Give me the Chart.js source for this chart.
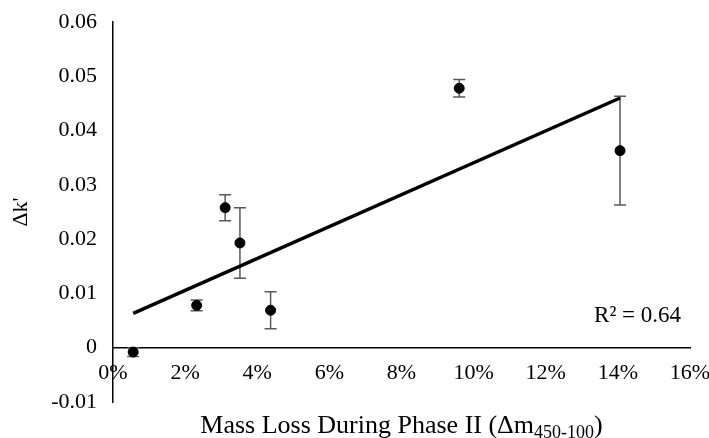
<!DOCTYPE html>
<html>
<head>
<meta charset="utf-8">
<script src="https://cdn.jsdelivr.net/npm/chart.js@4"></script>
<style>
  html, body { margin: 0; padding: 0; background: #fff; }
  canvas { display: block; }
</style>
</head>
<body>
<canvas id="grafica" width="709" height="438"></canvas>
<script>
// valores
const massLoss = [0.0056, 0.0232, 0.0311, 0.0352, 0.0437, 0.0960, 0.1406];
const deltaK = [-0.0008, 0.0078, 0.0258, 0.0193, 0.0069, 0.0478, 0.0363];
const deltaKErr = [0.0008, 0.0010, 0.0024, 0.0065, 0.0034, 0.0016, 0.0100];
const xTicks = [0, 0.02, 0.04, 0.06, 0.08, 0.10, 0.12, 0.14, 0.16];
const yTicks = [-0.01, 0, 0.01, 0.02, 0.03, 0.04, 0.05, 0.06];

const fuente = "'Liberation Serif', 'Times New Roman', serif";

// regresion lineal (linea de tendencia)
function regresion(xs, ys) {
    const n = xs.length;
    const mx = xs.reduce((a, b) => a + b, 0) / n;
    const my = ys.reduce((a, b) => a + b, 0) / n;
    let sxy = 0, sxx = 0, syy = 0;
    for (let i = 0; i < n; i++) {
        sxy += (xs[i] - mx) * (ys[i] - my);
        sxx += (xs[i] - mx) * (xs[i] - mx);
        syy += (ys[i] - my) * (ys[i] - my);
    }
    const m = sxy / sxx;
    return { m: m, b: my - m * mx, r2: (sxy * sxy) / (sxx * syy) };
}
const ajuste = regresion(massLoss, deltaK);
const xMin = Math.min(...massLoss);
const xMax = Math.max(...massLoss);
const tendencia = [
    { x: xMin, y: ajuste.m * xMin + ajuste.b },
    { x: xMax, y: ajuste.m * xMax + ajuste.b }
];

// barras de error
const errorBars = {
    id: 'errorBars',
    beforeDatasetsDraw(chart) {
        const ctx = chart.ctx;
        const xs = chart.scales.x, ys = chart.scales.y;
        ctx.save();
        ctx.strokeStyle = '#595959';
        ctx.lineWidth = 1.5;
        massLoss.forEach((xv, i) => {
            const px = xs.getPixelForValue(xv);
            const top = ys.getPixelForValue(deltaK[i] + deltaKErr[i]);
            const bot = ys.getPixelForValue(deltaK[i] - deltaKErr[i]);
            ctx.beginPath();
            ctx.moveTo(px, top); ctx.lineTo(px, bot);
            ctx.moveTo(px - 6, top); ctx.lineTo(px + 6, top);
            ctx.moveTo(px - 6, bot); ctx.lineTo(px + 6, bot);
            ctx.stroke();
        });
        ctx.restore();
    }
};

// titulo del eje x con subindice y texto R²
const textos = {
    id: 'textos',
    afterDraw(chart) {
        const ctx = chart.ctx;
        const area = chart.chartArea;
        ctx.save();
        ctx.fillStyle = '#000';
        ctx.textBaseline = 'alphabetic';

        const principal = 'Mass Loss During Phase II (\u0394m';
        const sub = '450-100';
        const cierre = ')';
        ctx.font = '26px ' + fuente;
        const w1 = ctx.measureText(principal).width;
        const w3 = ctx.measureText(cierre).width;
        ctx.font = '18px ' + fuente;
        const w2 = ctx.measureText(sub).width;
        let x = (area.left + area.right) / 2 - (w1 + w2 + w3) / 2;
        const base = 433;
        ctx.textAlign = 'left';
        ctx.font = '26px ' + fuente;
        ctx.fillText(principal, x, base);
        x += w1;
        ctx.font = '18px ' + fuente;
        ctx.fillText(sub, x, base + 5);
        x += w2;
        ctx.font = '26px ' + fuente;
        ctx.fillText(cierre, x, base);

        ctx.font = '23px ' + fuente;
        ctx.textAlign = 'right';
        ctx.textBaseline = 'middle';
        ctx.fillText('R\u00b2 = ' + ajuste.r2.toFixed(2), 681, chart.scales.y.getPixelForValue(0.0058));
        ctx.restore();
    }
};

// quitar el relleno automatico por etiquetas para fijar el area del grafico
function sinRelleno(scale) {
    scale.paddingLeft = 0;
    scale.paddingRight = 0;
    scale.paddingTop = 0;
    scale.paddingBottom = 0;
}

const ctx = document.getElementById('grafica').getContext('2d');
new Chart(ctx, {
    type: 'scatter',
    data: {
        datasets: [
            {
                label: 'Datos',
                data: massLoss.map((x, i) => ({ x: x, y: deltaK[i] })),
                backgroundColor: '#000',
                borderColor: '#000',
                pointRadius: 5,
                pointHoverRadius: 5,
                order: 0
            },
            {
                label: 'Tendencia',
                type: 'line',
                data: tendencia,
                borderColor: '#000',
                borderWidth: 3.5,
                pointRadius: 0,
                fill: false,
                order: 1
            }
        ]
    },
    options: {
        responsive: false,
        animation: false,
        layout: { padding: { left: 0, right: 19, top: 22, bottom: 36 } },
        plugins: {
            legend: { display: false },
            tooltip: { enabled: false }
        },
        scales: {
            x: {
                type: 'linear',
                position: { y: 0 },
                min: 0,
                max: 0.16,
                afterBuildTicks: scale => { scale.ticks = xTicks.map(v => ({ value: v })); },
                afterFit: sinRelleno,
                grid: { display: false, drawTicks: false },
                border: { display: true, color: '#000', width: 1.5 },
                ticks: {
                    color: '#000',
                    font: { family: fuente, size: 22 },
                    padding: 12,
                    maxRotation: 0,
                    callback: v => Math.round(v * 100) + '%'
                }
            },
            y: {
                type: 'linear',
                min: -0.01,
                max: 0.06,
                afterBuildTicks: scale => { scale.ticks = yTicks.map(v => ({ value: v })); },
                afterFit: scale => { sinRelleno(scale); scale.width = 113; },
                grid: { display: false, drawTicks: false },
                border: { display: true, color: '#000', width: 1.5 },
                ticks: {
                    color: '#000',
                    font: { family: fuente, size: 22 },
                    padding: 16,
                    callback: v => {
                        const r = Math.round(v * 100) / 100;
                        return r === 0 ? '0' : r.toFixed(2);
                    }
                },
                title: {
                    display: true,
                    text: "\u0394k'",
                    color: '#000',
                    font: { family: fuente, size: 22 },
                    padding: { top: 8, bottom: 0 }
                }
            }
        }
    },
    plugins: [errorBars, textos]
});
</script>
</body>
</html>
